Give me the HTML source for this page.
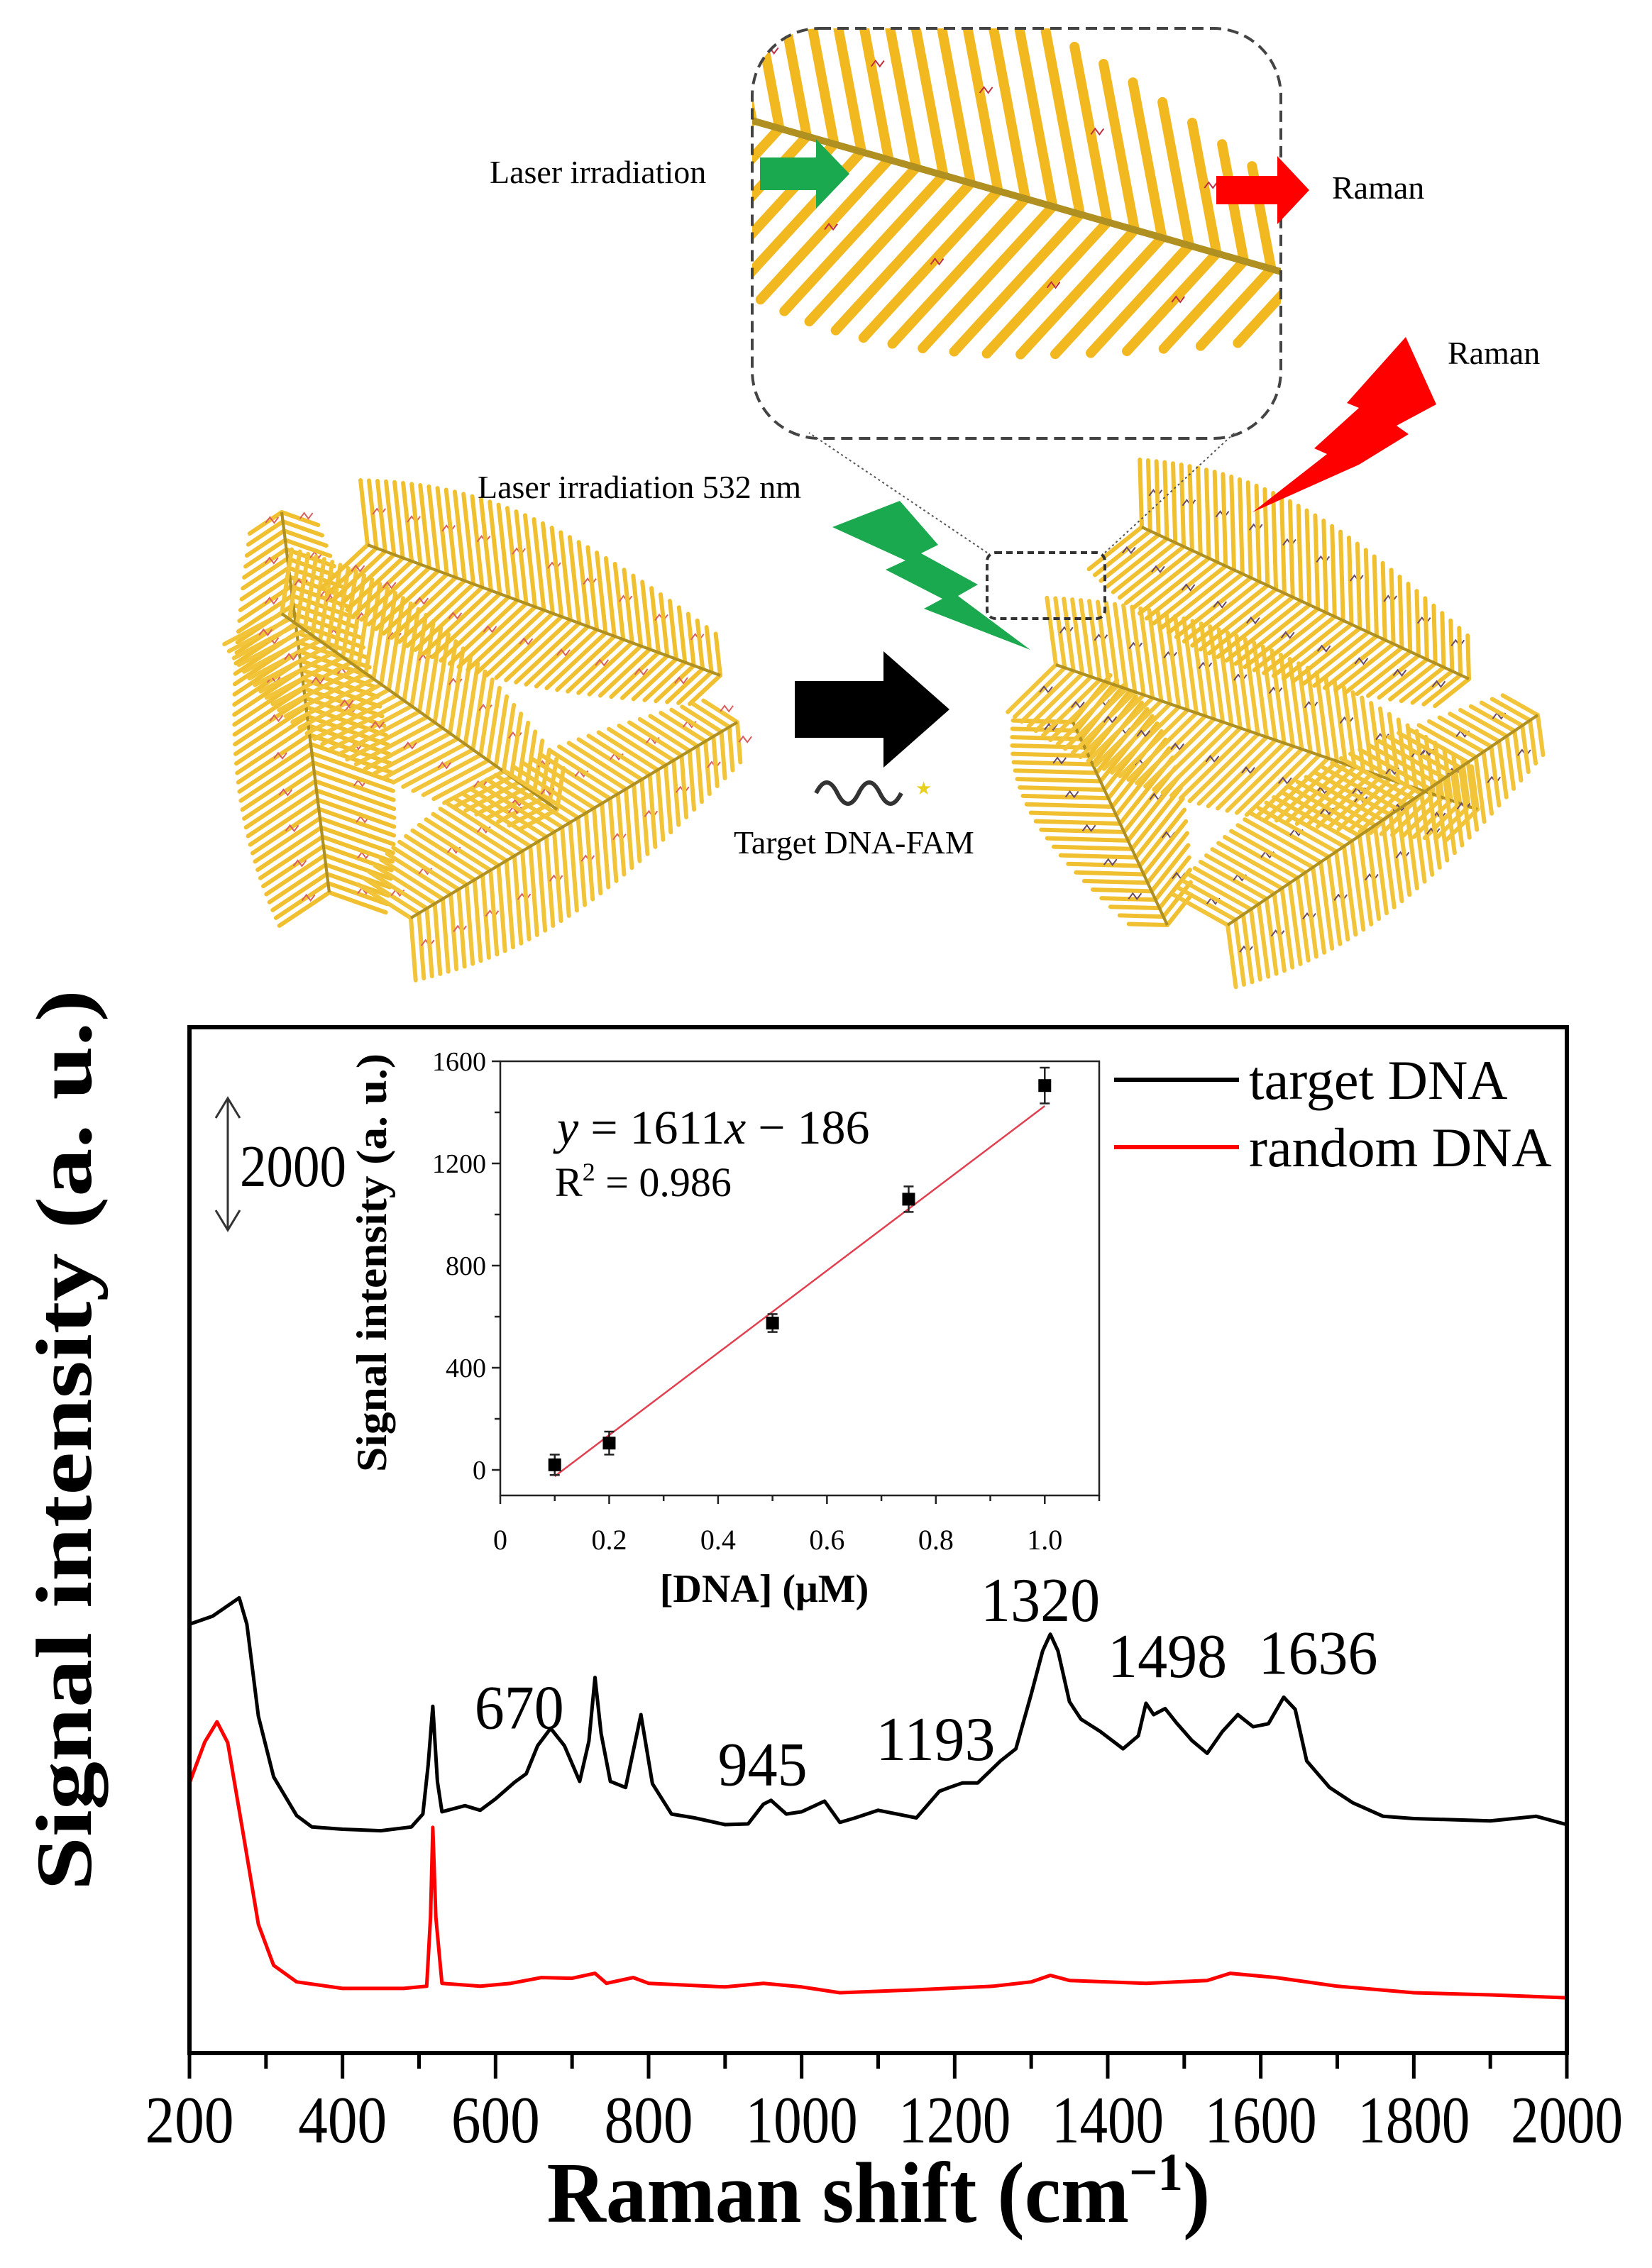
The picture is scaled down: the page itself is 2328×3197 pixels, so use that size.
<!DOCTYPE html>
<html><head><meta charset="utf-8"><style>
html,body{margin:0;padding:0;background:#fff}
svg{display:block}
text{font-family:"Liberation Serif",serif}
</style></head><body>
<svg id="root" width="2328" height="3197" viewBox="0 0 2328 3197" xmlns="http://www.w3.org/2000/svg">
<defs>
<clipPath id="zoomClip"><rect x="1060" y="40" width="745" height="578" rx="95"/></clipPath>
</defs>
<g id="illustration">
  <g id="fernsLeft"></g>
  <g id="fernsRight"></g>
  <g id="zoomFern" clip-path="url(#zoomClip)"></g>
  <rect x="1060" y="40" width="745" height="578" rx="95" fill="none" stroke="#444" stroke-width="4" stroke-dasharray="16 9"/>
  <rect x="1391" y="779" width="166" height="93" rx="12" fill="none" stroke="#333" stroke-width="4" stroke-dasharray="9 6"/>
  <line x1="1391" y1="779" x2="1140" y2="610" stroke="#555" stroke-width="2" stroke-dasharray="3 4"/>
  <line x1="1557" y1="779" x2="1740" y2="610" stroke="#555" stroke-width="2" stroke-dasharray="3 4"/>
  <polygon points="1071,222 1150,222 1150,196 1197,245 1150,294 1150,268 1071,268" fill="#1aa94f"/>
  <polygon points="1714,248 1800,248 1800,220 1845,268 1800,316 1800,288 1714,288" fill="#f00"/>
  <text x="690" y="258" font-size="46">Laser irradiation</text>
  <text x="1877" y="280" font-size="46">Raman</text>
  <text x="2040" y="513" font-size="46">Raman</text>
  <text x="673" y="702" font-size="46">Laser irradiation 532 nm</text>
  <polygon points="1981,475 2024,570 1968,600 1985,612 1915,655 1765,722 1870,640 1852,632 1915,575 1898,568" fill="#f00"/>
  <polygon points="1173,743 1268,706 1322,768 1298,780 1378,824 1350,840 1452,916 1302,858 1328,844 1248,803 1276,790" fill="#1aa94f"/>
  <polygon points="1120,960 1245,960 1245,918 1338,1000 1245,1082 1245,1040 1120,1040" fill="#000"/>
  <path d="M1150,1118 q15,-30 30,0 t30,0 t30,0 t30,0" fill="none" stroke="#333" stroke-width="6"/>
  <text x="1290" y="1120" font-size="26" fill="#e8d020">★</text>
  <text x="1034" y="1203" font-size="46">Target DNA-FAM</text>
</g>
<g id="mainChart"></g>
<g id="insetChart"></g>
</svg>
<script>
// ---------- main chart data ----------
const shiftTarget = [200,230,265,275,290,310,340,360,400,450,490,505,512,518,524,530,560,580,600,625,640,655,672,690,710,722,730,738,750,770,790,805,830,860,900,930,950,960,980,1000,1030,1050,1070,1100,1150,1180,1193,1210,1230,1260,1280,1300,1315,1325,1335,1350,1365,1390,1420,1440,1450,1460,1475,1490,1510,1530,1550,1570,1590,1610,1630,1645,1660,1690,1720,1760,1800,1900,1960,2000];
const intensityTarget = [6500,6620,6900,6500,5106,4186,3600,3427,3393,3370,3427,3623,4370,5256,4117,3657,3749,3680,3853,4106,4232,4658,4922,4658,4117,4727,5693,4842,4117,4025,5129,4083,3623,3565,3462,3473,3772,3830,3623,3657,3818,3496,3565,3680,3565,3968,4025,4094,4094,4428,4612,5440,6095,6348,6095,5325,5060,4876,4612,4807,5302,5129,5221,5003,4738,4543,4876,5129,4945,4991,5394,5210,4428,4025,3795,3588,3554,3519,3588,3462];
const shiftRandom = [200,220,236,250,270,290,310,340,400,480,510,515,518,522,530,580,620,660,700,730,745,780,800,900,950,1000,1050,1150,1250,1300,1325,1350,1450,1530,1560,1620,1700,1800,1900,2000];
const intensityRandom = [4092,4715,5020,4704,3339,1952,1329,1078,980,980,1013,2061,3420,2061,1057,1013,1057,1144,1133,1209,1057,1144,1057,1002,1057,1002,914,958,1013,1078,1177,1100,1057,1100,1209,1144,1013,914,882,838];
const xTicks = [200,400,600,800,1000,1200,1400,1600,1800,2000];
const peakLabels = ["670","945","1193","1320","1498","1636"];
const peakLabelX = [631,949,1175,1312,1478,1675];
const peakLabelY = [4920,4060,4440,6550,5700,5750];
const legendNames = ["target DNA","random DNA"];
// ---------- inset data ----------
const concX = [0.1,0.2,0.5,0.75,1.0];
const signalY = [20,105,575,1060,1505];
const signalErr = [40,45,35,50,70];
const fitSlope = 1611, fitIntercept = -186;
const insetYTicks = [0,400,800,1200,1600];
const insetXTicks = [0,0.2,0.4,0.6,0.8,1.0];
const insetXTickLabels = ["0","0.2","0.4","0.6","0.8","1.0"];

const NS = "http://www.w3.org/2000/svg";
function mk(tag, attrs, parent){const e=document.createElementNS(NS,tag);for(const k in attrs)e.setAttribute(k,attrs[k]);parent.appendChild(e);return e;}

// ---------- main axes ----------
const M = {l:267, r:2208, t:1448, b:2894};
const xMin=200, xMax=2000, pxPerUnit=0.093;
const sx = v => M.l + (v-xMin)/(xMax-xMin)*(M.r-M.l);
const sy = v => M.b - v*pxPerUnit;
const main = document.getElementById('mainChart');

function linePath(xs, ys){return xs.map((x,i)=>(i?'L':'M')+sx(x).toFixed(1)+','+sy(ys[i]).toFixed(1)).join(' ');}
let p = mk('path',{d:linePath(shiftTarget,intensityTarget),fill:'none',stroke:'#000','stroke-width':5,'stroke-linejoin':'round'},main);


p = mk('path',{d:linePath(shiftRandom,intensityRandom),fill:'none',stroke:'#f00','stroke-width':5,'stroke-linejoin':'round'},main);



let fr = mk('rect',{x:M.l,y:M.t,width:M.r-M.l,height:M.b-M.t,fill:'none',stroke:'#000','stroke-width':6},main);



for(let v=200; v<=2000; v+=100){
  const major = (v%200===0);
  const t = mk('line',{x1:sx(v),x2:sx(v),y1:M.b,y2:M.b+(major?36:22),stroke:'#000','stroke-width':5},main);
  
  
}
xTicks.forEach(v=>{
  const s=String(v);
  const t = mk('text',{x:sx(v),y:3020,'font-size':94,'text-anchor':'middle',textLength:(s.length>3?158:125),lengthAdjust:'spacingAndGlyphs'},main);
  t.textContent=s;
  
  
});
let tt = mk('text',{x:1238,y:3132,'font-size':122,'font-weight':'bold','text-anchor':'middle',textLength:935,lengthAdjust:'spacingAndGlyphs'},main);
tt.innerHTML='Raman shift (cm<tspan dy="-45" font-size="75">−1</tspan><tspan dy="45">)</tspan>';


tt = mk('text',{x:0,y:0,'font-size':112,'font-weight':'bold','text-anchor':'middle',transform:'translate(128,2030) rotate(-90)',textLength:1270,lengthAdjust:'spacingAndGlyphs'},main);
tt.textContent='Signal intensity (a. u.)';



// scale bar
const sb = mk('g',{},main);


mk('line',{x1:321,x2:321,y1:1548,y2:1734,stroke:'#333','stroke-width':3},sb);
mk('path',{d:'M304,1576 L321,1548 L338,1576 M304,1706 L321,1734 L338,1706',fill:'none',stroke:'#333','stroke-width':3},sb);
let st = mk('text',{x:338,y:1672,'font-size':84,textLength:150,lengthAdjust:'spacingAndGlyphs'},sb);
st.textContent='2000';

peakLabels.forEach((lab,i)=>{
  const t = mk('text',{x:sx(peakLabelX[i]),y:sy(peakLabelY[i]),'font-size':88,'text-anchor':'middle',textLength:(lab.length>3?168:126),lengthAdjust:'spacingAndGlyphs'},main);
  t.textContent=lab;
  
  
});
// legend
const legCols=['#000','#f00'];
legendNames.forEach((n,i)=>{
  const g = mk('g',{},main);
  
  
  const y = 1522 + i*95;
  mk('line',{x1:1570,x2:1746,y1:y,y2:y,stroke:legCols[i],'stroke-width':6},g);
  const t = mk('text',{x:1760,y:y+27,'font-size':78},g);
  t.textContent=n;
});

// ---------- inset ----------
const I = {l:705, r:1549, t:1496, b:2108};
const ix = v => I.l + v/1.1*(I.r-I.l);
const iy = v => I.b - (v+100)/1700*(I.b-I.t);
const inset = document.getElementById('insetChart');
fr = mk('rect',{x:I.l,y:I.t,width:I.r-I.l,height:I.b-I.t,fill:'none',stroke:'#222','stroke-width':2.5},inset);


for(let v=0; v<=1600; v+=200){
  const t = mk('line',{x1:I.l-(v%400===0?12:8),x2:I.l,y1:iy(v),y2:iy(v),stroke:'#222','stroke-width':2.5},inset);
  
  
}
insetYTicks.forEach(v=>{
  const t = mk('text',{x:I.l-20,y:iy(v)+13,'font-size':38,'text-anchor':'end'},inset);
  t.textContent=v;
  
  
});
for(let k=0;k<=11;k++){
  const v=k/10;
  const t = mk('line',{x1:ix(v),x2:ix(v),y1:I.b,y2:I.b+(k%2===0?12:8),stroke:'#222','stroke-width':2.5},inset);
  
  
}
insetXTicks.forEach((v,i)=>{
  const t = mk('text',{x:ix(v),y:I.b+76,'font-size':40,'text-anchor':'middle'},inset);
  t.textContent=insetXTickLabels[i];
  
  
});
tt = mk('text',{x:1077,y:2258,'font-size':56,'font-weight':'bold','text-anchor':'middle'},inset);
tt.textContent='[DNA] (μM)';


tt = mk('text',{x:0,y:0,'font-size':60,'font-weight':'bold','text-anchor':'middle',transform:'translate(544,1780) rotate(-90)',textLength:590,lengthAdjust:'spacingAndGlyphs'},inset);
tt.textContent='Signal intensity (a. u.)';


const x0=concX[0], x1=concX[concX.length-1];
let fl = mk('line',{x1:ix(x0),y1:iy(fitSlope*x0+fitIntercept),x2:ix(x1),y2:iy(fitSlope*x1+fitIntercept),stroke:'#e04050','stroke-width':2.5},inset);


concX.forEach((c,i)=>{
  const g = mk('g',{},inset);
  
  
  const X=ix(c), Y=iy(signalY[i]), e1=iy(signalY[i]+signalErr[i]), e2=iy(signalY[i]-signalErr[i]);
  mk('line',{x1:X,x2:X,y1:e1,y2:e2,stroke:'#222','stroke-width':2.5},g);
  mk('line',{x1:X-7,x2:X+7,y1:e1,y2:e1,stroke:'#222','stroke-width':2.5},g);
  mk('line',{x1:X-7,x2:X+7,y1:e2,y2:e2,stroke:'#222','stroke-width':2.5},g);
  mk('rect',{x:X-9,y:Y-9,width:18,height:18,fill:'#000'},g);
});
tt = mk('text',{x:785,y:1612,'font-size':68},inset);
tt.innerHTML='<tspan font-style="italic">y</tspan> = 1611<tspan font-style="italic">x</tspan> − 186';


tt = mk('text',{x:782,y:1686,'font-size':58},inset);
tt.innerHTML='R<tspan dy="-22" font-size="36">2</tspan><tspan dy="22"> = 0.986</tspan>';



// ---------- decorative ferns ----------
function fern(parent, ax, ay, bx, by, len, sw, spacing, col, dna){
  const dx=bx-ax, dy=by-ay, L=Math.hypot(dx,dy), ux=dx/L, uy=dy/L;
  const g = mk('g',{},parent);
  const n = Math.floor(L/spacing);
  for(let k=0;k<=n;k++){
    const t=k/n, px=ax+dx*t, py=ay+dy*t;
    const ll = len*(0.45+0.55*Math.sin(Math.PI*(0.15+0.85*t)));
    [1,-1].forEach(s=>{
      const nx = -uy*s, ny = ux*s;
      const ex = px + (nx*0.9 - ux*0.45)*ll, ey = py + (ny*0.9 - uy*0.45)*ll;
      mk('line',{x1:px,y1:py,x2:ex,y2:ey,stroke:col,'stroke-width':sw,'stroke-linecap':'round'},g);
      if(dna && k%4===1){
        mk('path',{d:`M${(px+ex)/2},${(py+ey)/2} l6,-8 l6,8 l6,-8`,fill:'none',stroke:dna,'stroke-width':2},g);
      }
    });
  }
  mk('line',{x1:ax,y1:ay,x2:bx,y2:by,stroke:'#b09020','stroke-width':sw*0.7},g);
}
const fl1=document.getElementById('fernsLeft');
fern(fl1,464,1258,397,722,120,6,13,'#f0c030','#d86060');
fern(fl1,397,865,785,1141,130,6,13,'#f2c43a','#d86060');
fern(fl1,518,768,1015,952,130,6,13,'#f0c030','#d86060');
fern(fl1,579,1294,1039,1018,125,6,13,'#f2c43a','#d86060');
const fr1=document.getElementById('fernsRight');
fern(fr1,1512,1018,1645,1304,120,6,13,'#f0c030','#6a4a6a');
fern(fr1,1488,937,2082,1141,135,6,13,'#f2c43a','#6a4a6a');
fern(fr1,1609,743,2070,957,135,6,13,'#f0c030','#6a4a6a');
fern(fr1,1730,1304,2167,1008,125,6,13,'#f2c43a','#6a4a6a');
const zf=document.getElementById('zoomFern');
fern(zf,1060,170,1830,390,280,14,40,'#f2b820','#c03040');
</script>
</body></html>
